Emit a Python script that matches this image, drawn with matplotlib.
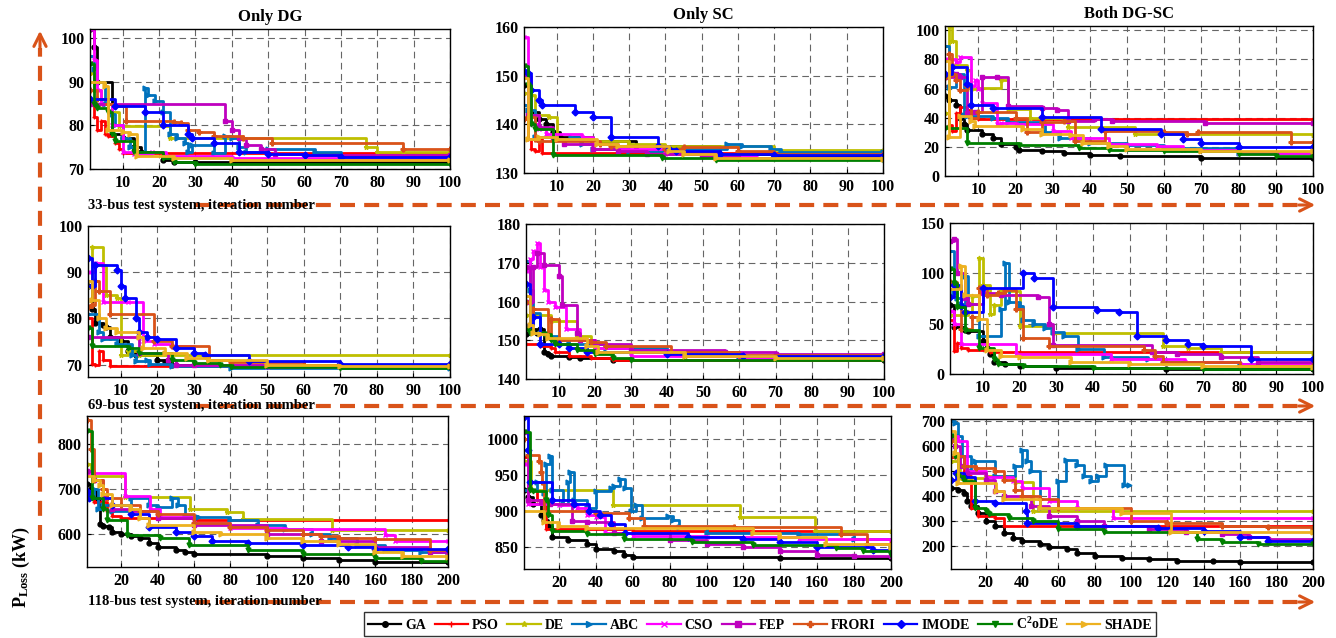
import matplotlib
matplotlib.use('Agg')
import matplotlib.pyplot as plt
from matplotlib.lines import Line2D

plt.rcParams['font.family'] = ['Liberation Serif', 'DejaVu Serif']
plt.rcParams['font.weight'] = 'bold'
plt.rcParams['mathtext.fontset'] = 'custom'
plt.rcParams['mathtext.rm'] = 'Liberation Serif:bold'
plt.rcParams['mathtext.bf'] = 'Liberation Serif:bold'
plt.rcParams['mathtext.it'] = 'Liberation Serif:bold'

# ---------------- data: convergence curves (iteration, P_loss kW) breakpoints ----------------
algorithms = ["GA", "PSO", "DE", "ABC", "CSO", "FEP", "FRORI", "IMODE", "C2oDE", "SHADE"]
legend_labels = ["GA", "PSO", "DE", "ABC", "CSO", "FEP", "FRORI", "IMODE", r"C$^{2}$oDE", "SHADE"]
colors = ["#000000", "#FF0000", "#BFBF00", "#0072BD", "#FF00FF", "#BF00BF",
          "#D95319", "#0000FF", "#008000", "#EDB120"]
markers = ["o", "+", "*", ">", "x", "s", "P", "D", "v", ">"]

col_titles = ["Only DG", "Only SC", "Both DG-SC"]
row_labels = ["33-bus test system, iteration number",
              "69-bus test system, iteration number",
              "118-bus test system, iteration number"]

DG33 = {
    "GA": [(1, 102), (2, 98), (3, 90), (7, 78), (10, 77), (13, 75), (15, 74), (21, 72), (24, 71.7), (30, 71.5), (100, 71.5)],
    "PSO": [(1, 85), (2, 82), (3, 79), (4, 81), (5, 78), (6, 77.6), (8, 76), (9, 74.5), (10, 73.6), (100, 73.4)],
    "DE": [(1, 92), (2, 88), (4, 85), (7, 83), (9, 79.8), (23, 77), (77, 75), (80, 74), (87, 73.8), (100, 73.8)],
    "ABC": [(1, 96), (2, 93), (3, 90), (5, 85), (7, 82.5), (8, 80), (10, 77), (12, 75), (14, 74), (16, 88.5), (17, 87),
            (19, 85.5), (21, 83), (23, 78), (25, 77), (27, 76), (28, 74), (29, 75.5), (35, 73.7), (38, 77.5), (40, 77),
            (42, 75), (44, 74), (50, 74.5), (63, 74), (70, 73), (80, 72.5), (100, 72.5)],
    "CSO": [(1, 102), (2, 95), (3, 88), (4, 85), (7, 80), (10, 74), (13, 73.5), (18, 74), (22, 73), (40, 72.5), (100, 72.5)],
    "FEP": [(1, 85), (38, 81), (40, 79), (42, 77), (44, 75.5), (48, 74.5), (52, 73.5), (60, 73.2), (100, 73.2)],
    "FRORI": [(1, 88), (3, 86), (6, 85), (8, 84.5), (11, 81), (24, 80.8), (26, 80.5), (28, 79), (31, 78.5), (35, 77.5),
              (43, 77), (51, 76), (87, 74.7), (100, 74.7)],
    "IMODE": [(1, 86), (8, 84.5), (16, 83), (21, 80), (28, 78), (29, 77), (35, 76), (42, 74), (50, 73.5), (60, 73.2),
              (70, 72.8), (100, 72.8)],
    "C2oDE": [(1, 94), (2, 85), (3, 84), (6, 83), (7, 78), (8, 76.5), (13, 74), (21, 72.5), (24, 71.5), (30, 71.2), (100, 71.2)],
    "SHADE": [(1, 90), (5, 89), (6, 79), (10, 78.5), (12, 78), (14, 73), (24, 72.5), (40, 72), (100, 72)],
}

SC33 = {
    "GA": [(1, 148), (3, 142.5), (5, 141), (7, 140), (9, 138.5), (11, 137.5), (20, 136.5), (32, 135.5), (55, 134), (70, 133.5), (100, 133.5)],
    "PSO": [(1, 141), (2, 137), (3, 135), (4, 134.5), (5, 137), (6, 134.2), (100, 134.2)],
    "DE": [(1, 146.5), (2, 150), (3, 146), (4, 142), (8, 141.5), (10, 137), (20, 136.5), (30, 136), (40, 135.5), (70, 134.7), (100, 134.7)],
    "ABC": [(1, 144), (2, 143), (4, 137.5), (10, 137), (14, 137.5), (17, 136), (20, 135), (30, 134.5), (40, 135), (57, 136),
            (61, 135.5), (69, 135), (72, 134.3), (100, 134.3)],
    "CSO": [(1, 158), (2, 150), (3, 140), (5, 139), (7, 138), (17, 137.5), (20, 136), (27, 135), (40, 134), (55, 133.5), (65, 133), (100, 133)],
    "FEP": [(1, 150), (2, 142), (5, 139.5), (9, 137), (12, 136), (20, 135), (27, 134.5), (35, 134), (50, 133.5), (60, 133), (100, 133)],
    "FRORI": [(1, 141), (2, 141.5), (4, 137), (5, 136.5), (22, 136), (25, 135.5), (40, 135), (45, 135.3), (60, 134.5), (70, 134), (100, 134)],
    "IMODE": [(1, 151), (2, 150.5), (3, 147), (5, 145), (6, 144), (15, 142.5), (20, 141.5), (25, 137.5), (38, 135.5), (41, 135),
              (43, 134.5), (55, 134), (70, 133.7), (100, 133.5)],
    "C2oDE": [(1, 152), (2, 148), (3, 140), (4, 139), (9, 133.7), (39, 133), (54, 132.7), (100, 132.7)],
    "SHADE": [(1, 149.5), (2, 137), (5, 137.5), (10, 137), (21, 136), (27, 135.5), (41, 134.5), (45, 134), (54, 133), (100, 132.8)],
}

BOTH33 = {
    "GA": [(1, 55), (2, 52), (4, 49), (5, 40), (6, 36), (7, 31.5), (11, 29), (14, 26), (16, 22), (20, 20), (21, 18), (27, 17),
           (33, 15.5), (40, 14.5), (48, 13.5), (70, 12.5), (100, 12.5)],
    "PSO": [(1, 62), (2, 35), (3, 31), (4, 43), (5, 47.5), (7, 45), (8, 40), (10, 39), (100, 39)],
    "DE": [(1, 43), (2, 103), (3, 93), (4, 76), (7, 73), (8, 59.5), (10, 60.5), (16, 66), (18, 46), (24, 40), (34, 33.5),
           (52, 28.5), (100, 28)],
    "ABC": [(1, 89), (2, 61), (4, 70), (6, 42), (7, 41), (14, 40), (18, 37), (28, 30), (32, 26), (40, 23), (50, 21), (60, 19),
            (80, 16), (100, 16)],
    "CSO": [(1, 80), (4, 78), (5, 82), (8, 62), (9, 66), (10, 60), (11, 50), (15, 36), (16, 36.5), (20, 36), (30, 31), (35, 26),
            (45, 22), (58, 20.5), (65, 18), (80, 16), (100, 16)],
    "FEP": [(1, 68), (4, 70), (5, 68), (7, 43), (9, 44), (11, 68), (15, 68), (18, 48), (27, 47), (31, 45), (34, 38), (41, 39),
            (46, 37.5), (71, 36.5), (100, 36.5)],
    "FRORI": [(1, 68), (2, 84), (3, 70), (4, 66), (5, 59), (7, 62), (8, 40), (10, 44), (20, 40), (23, 30), (27, 37), (33, 38),
              (36, 24), (44, 31), (60, 30), (66, 29), (69, 30), (94, 23.5), (100, 23.5)],
    "IMODE": [(1, 70), (3, 75), (7, 63), (8, 49), (14, 47), (27, 40.5), (43, 32.5), (59, 29), (65, 25.5), (70, 22.5), (80, 20), (100, 20)],
    "C2oDE": [(1, 33), (7, 23), (21, 21), (37, 19.5), (45, 18), (60, 17), (80, 15), (90, 14), (100, 14)],
    "SHADE": [(1, 79), (2, 27), (5, 41), (8, 38), (9, 34), (22, 32), (27, 29), (35, 28), (38, 23), (45, 20.5), (50, 18.5), (70, 17), (100, 17)],
}

DG69 = {
    "GA": [(1, 87), (2, 82), (3, 79), (5, 78.5), (6, 78.2), (7, 76), (10, 75), (12, 73), (14, 72), (20, 71), (22, 70.5), (24, 70), (40, 69.7), (100, 69.7)],
    "PSO": [(1, 80), (2, 70.2), (3, 69.8), (4, 73), (5, 71), (7, 69.7), (100, 69.7)],
    "DE": [(1, 87), (2, 95.5), (5, 91.5), (6, 85), (9, 84.5), (10, 72), (12, 73), (15, 72), (100, 72)],
    "ABC": [(1, 81), (4, 77), (5, 75.5), (9, 74.5), (13, 72), (14, 70.7), (17, 71), (18, 70.2), (24, 69.7), (40, 69.3), (100, 69.3)],
    "CSO": [(1, 90), (3, 92), (5, 83.5), (12, 83.5), (16, 75), (19, 74.5), (24, 74), (30, 70), (50, 69.5), (100, 69.5)],
    "FEP": [(1, 76), (15, 72.5), (23, 71), (25, 70), (30, 69.8), (100, 69.8)],
    "FRORI": [(1, 82.5), (2, 83), (3, 88), (4, 86), (7, 81), (19, 75), (24, 74), (34, 71), (40, 70.5), (60, 70), (80, 69.7), (100, 69.7)],
    "IMODE": [(1, 93), (2, 87), (3, 91.5), (9, 90.5), (10, 87), (11, 84.5), (14, 80), (15, 77), (17, 76), (20, 75.5), (25, 73.5),
              (30, 72.5), (33, 72), (45, 70.7), (70, 70.2), (100, 70.2)],
    "C2oDE": [(1, 78), (2, 74), (12, 73.5), (15, 72.5), (24, 71), (30, 70.3), (37, 70), (40, 69.5), (70, 69.2), (100, 69.2)],
    "SHADE": [(1, 88), (2, 84), (4, 80), (6, 78), (9, 77), (15, 76), (16, 73.5), (22, 72.5), (28, 71.5), (34, 71), (50, 70), (70, 69.7), (100, 69.7)],
}

SC69 = {
    "GA": [(1, 151.5), (2, 153), (4, 152), (5, 153), (6, 147), (7, 146.5), (8, 146), (13, 145.7), (16, 145.3), (25, 145), (100, 145)],
    "PSO": [(1, 149), (5, 148.5), (8, 148), (9, 147), (13, 146), (19, 145.5), (25, 145), (100, 145)],
    "DE": [(1, 156.5), (8, 155), (15, 151), (19, 149), (20, 148), (30, 147), (45, 146), (70, 145.2), (100, 145.2)],
    "ABC": [(1, 170.5), (2, 163), (3, 157), (5, 152), (7, 151), (10, 150), (13, 149), (23, 148), (40, 147), (60, 146), (80, 145.3), (100, 145.3)],
    "CSO": [(1, 168), (2, 171), (3, 173), (4, 175), (5, 169), (6, 163), (7, 160), (9, 158.5), (12, 153), (16, 150), (20, 148),
            (30, 146), (60, 145.5), (100, 145.5)],
    "FEP": [(1, 169), (2, 160), (3, 169), (4, 172.5), (6, 169.5), (10, 166.5), (11, 159), (15, 152), (16, 150), (20, 149),
            (30, 147.5), (56, 147), (70, 146.5), (100, 146.5)],
    "FRORI": [(1, 160), (2, 154), (3, 158), (7, 152), (8, 155.5), (10, 150), (19, 149.5), (23, 148.5), (41, 147), (60, 146.3), (100, 146.3)],
    "IMODE": [(1, 164.5), (2, 154), (3, 156), (5, 149), (10, 149), (13, 148), (18, 147), (40, 146.5), (61, 146), (100, 146)],
    "C2oDE": [(1, 153), (2, 152), (6, 151.5), (8, 150), (9, 149), (15, 147.5), (20, 146.5), (25, 145.5), (30, 145), (100, 145)],
    "SHADE": [(1, 161.5), (2, 154), (3, 152), (5, 151.5), (7, 150.5), (18, 148.5), (21, 147), (45, 146), (70, 145.4), (100, 145.4)],
}

BOTH69 = {
    "GA": [(1, 69), (2, 47), (5, 44), (6, 43), (10, 33), (11, 26), (12, 20), (13, 12), (16, 10), (20, 7.5), (30, 6), (60, 5), (100, 5)],
    "PSO": [(1, 54), (2, 23), (3, 31), (4, 26), (6, 24), (12, 22), (20, 21.5), (100, 21.5)],
    "DE": [(1, 59), (6, 62), (7, 77), (9, 115), (10, 88), (12, 60), (13, 69), (15, 82), (20, 48), (29, 40.5), (59, 28), (66, 26),
           (75, 22), (100, 21)],
    "ABC": [(1, 122), (2, 80), (3, 75), (4, 70), (5, 97), (6, 70), (9, 38), (15, 65), (16, 110), (17, 72), (20, 68), (21, 54),
            (24, 50), (27, 46), (29, 42), (32, 38), (36, 25), (43, 17), (55, 15), (60, 12), (80, 10), (100, 10)],
    "CSO": [(1, 63), (2, 50), (4, 30), (19, 20), (45, 15), (65, 12), (80, 10), (100, 9)],
    "FEP": [(1, 132), (2, 134), (3, 100), (5, 75), (6, 70), (10, 80), (15, 78), (25, 76), (28, 50), (29, 29), (56, 22), (63, 20),
            (75, 17), (85, 12), (100, 12)],
    "FRORI": [(1, 91), (3, 85), (4, 45), (7, 57), (9, 85), (11, 78), (14, 80), (16, 83), (19, 65), (21, 36), (28, 28), (54, 24),
              (57, 18), (59, 12), (80, 8), (100, 8)],
    "IMODE": [(1, 76), (2, 88), (4, 68), (5, 62), (10, 85), (21, 100), (24, 95), (29, 67), (41, 64), (47, 62), (52, 38), (60, 34),
              (66, 30), (70, 28), (83, 15), (100, 15)],
    "C2oDE": [(1, 104), (2, 90), (3, 67), (5, 44), (9, 26), (13, 15), (14, 10), (21, 8), (40, 6), (70, 5), (100, 5)],
    "SHADE": [(1, 84), (4, 107), (5, 78), (9, 55), (11, 24), (15, 18), (20, 17), (34, 12), (50, 10), (70, 8), (100, 7)],
}

DG118 = {
    "GA": [(1, 712), (3, 700), (6, 680), (8, 622), (10, 618), (13, 615), (15, 605), (20, 600), (25, 595), (30, 590), (35, 580),
           (40, 570), (50, 565), (55, 560), (60, 555), (100, 550), (120, 545), (140, 542), (160, 538), (200, 538)],
    "PSO": [(1, 680), (3, 690), (5, 670), (12, 650), (15, 640), (20, 635), (60, 632), (200, 632)],
    "DE": [(1, 755), (3, 740), (5, 730), (22, 683), (58, 656), (78, 648), (87, 633), (136, 608), (200, 608)],
    "ABC": [(1, 695), (4, 680), (5, 700), (7, 655), (10, 665), (15, 650), (25, 680), (35, 665), (40, 660), (48, 680), (51, 665),
            (55, 640), (62, 638), (80, 630), (95, 620), (110, 610), (125, 600), (135, 590), (150, 575), (165, 565), (185, 560), (200, 555)],
    "CSO": [(1, 735), (22, 685), (36, 655), (41, 638), (60, 625), (80, 612), (110, 610), (165, 598), (171, 585), (200, 585)],
    "FEP": [(1, 740), (5, 720), (10, 680), (15, 655), (25, 650), (40, 635), (60, 620), (100, 600), (130, 585), (160, 570), (190, 560), (200, 555)],
    "FRORI": [(1, 855), (3, 790), (5, 720), (10, 700), (12, 680), (20, 665), (30, 650), (40, 645), (60, 625), (80, 615), (100, 608),
              (120, 600), (130, 595), (140, 590), (160, 588), (190, 565), (200, 565)],
    "IMODE": [(1, 695), (2, 680), (15, 665), (25, 645), (35, 615), (50, 605), (60, 595), (70, 585), (90, 580), (120, 575), (145, 570),
              (160, 567), (200, 567)],
    "C2oDE": [(1, 830), (4, 680), (10, 655), (12, 632), (23, 598), (41, 590), (57, 575), (90, 565), (120, 555), (160, 545), (185, 540), (200, 540)],
    "SHADE": [(1, 728), (5, 720), (8, 710), (10, 690), (15, 665), (25, 655), (30, 635), (35, 620), (60, 605), (75, 600), (100, 590),
              (120, 585), (140, 578), (160, 560), (175, 550), (200, 548)],
}

SC118 = {
    "GA": [(1, 930), (3, 920), (6, 910), (10, 895), (12, 888), (14, 880), (16, 865), (25, 860), (35, 855), (40, 848), (50, 845),
           (55, 840), (60, 837), (140, 835), (200, 835)],
    "PSO": [(1, 975), (4, 930), (8, 915), (12, 910), (13, 875), (60, 872), (200, 872)],
    "DE": [(1, 970), (5, 930), (49, 908), (118, 892), (159, 872), (200, 872)],
    "ABC": [(1, 930), (8, 940), (12, 925), (13, 965), (15, 977), (16, 930), (22, 910), (25, 940), (26, 955), (28, 915), (35, 905),
            (40, 928), (48, 932), (50, 935), (53, 945), (56, 932), (59, 900), (62, 908), (65, 890), (79, 893), (82, 888), (85, 878),
            (100, 870), (150, 868), (180, 862), (200, 850)],
    "CSO": [(1, 965), (3, 910), (20, 908), (30, 905), (35, 895), (40, 892), (45, 870), (60, 866), (100, 865), (150, 862), (200, 860)],
    "FEP": [(1, 1010), (3, 915), (10, 913), (15, 910), (27, 887), (35, 885), (50, 870), (80, 860), (100, 855), (120, 850), (140, 845),
            (160, 840), (180, 838), (200, 838)],
    "FRORI": [(1, 1000), (3, 978), (9, 970), (10, 955), (11, 940), (12, 900), (40, 898), (58, 890), (66, 880), (115, 878), (173, 868),
              (187, 855), (200, 855)],
    "IMODE": [(1, 1030), (3, 985), (4, 940), (16, 915), (28, 910), (36, 900), (42, 895), (48, 882), (56, 870), (90, 865), (120, 862),
              (140, 857), (160, 850), (190, 847), (200, 845)],
    "C2oDE": [(1, 1010), (4, 930), (6, 928), (13, 915), (14, 895), (16, 872), (35, 868), (55, 862), (92, 858), (125, 853), (170, 849),
              (185, 845), (200, 840)],
    "SHADE": [(1, 900), (12, 885), (20, 880), (35, 877), (125, 870), (140, 865), (165, 855), (200, 850)],
}

BOTH118 = {
    "GA": [(1, 430), (5, 425), (8, 410), (10, 380), (12, 360), (16, 330), (20, 300), (25, 280), (30, 250), (35, 230), (40, 220),
           (50, 205), (55, 195), (65, 185), (70, 170), (80, 160), (95, 150), (110, 145), (125, 140), (145, 138), (160, 135), (200, 135)],
    "PSO": [(1, 555), (5, 560), (8, 480), (12, 350), (16, 320), (25, 310), (30, 280), (200, 280)],
    "DE": [(1, 540), (5, 560), (6, 470), (20, 480), (36, 455), (46, 340), (200, 340)],
    "ABC": [(1, 700), (3, 690), (5, 640), (7, 560), (12, 500), (14, 540), (25, 480), (36, 520), (40, 585), (43, 540), (45, 500),
            (50, 350), (60, 460), (64, 545), (70, 525), (74, 480), (78, 460), (82, 480), (86, 525), (96, 445), (99, 445)],
    "CSO": [(1, 640), (5, 620), (10, 500), (20, 475), (35, 460), (40, 430), (55, 380), (70, 350), (90, 310), (200, 310)],
    "FEP": [(1, 630), (3, 600), (6, 520), (10, 490), (20, 465), (25, 420), (30, 400), (45, 360), (55, 320), (70, 300), (85, 280),
            (110, 265), (130, 255), (150, 245), (165, 235), (175, 225), (200, 220)],
    "FRORI": [(1, 620), (3, 560), (8, 520), (15, 510), (25, 500), (30, 465), (36, 425), (40, 400), (50, 385), (60, 350), (100, 300),
              (120, 290), (150, 280), (175, 275), (200, 268)],
    "IMODE": [(1, 465), (4, 490), (8, 475), (14, 380), (25, 370), (42, 340), (43, 290), (70, 280), (115, 270), (140, 260), (160, 235),
              (175, 220), (200, 220)],
    "C2oDE": [(1, 640), (3, 560), (5, 480), (8, 460), (14, 350), (20, 340), (22, 325), (33, 310), (46, 300), (60, 265), (85, 255),
              (136, 225), (150, 215), (170, 205), (200, 205)],
    "SHADE": [(1, 660), (3, 570), (5, 450), (26, 420), (30, 385), (50, 350), (95, 330), (122, 255), (200, 255)],
}

panel_data = [[DG33, SC33, BOTH33], [DG69, SC69, BOTH69], [DG118, SC118, BOTH118]]
x_max = [100, 100, 200]
x_ticks = [list(range(10, 101, 10)), list(range(10, 101, 10)), list(range(20, 201, 20))]
y_limits = [[(70, 102.1), (130, 160), (0, 103)],
            [(67.3, 100), (140, 180), (0, 150)],
            [(526, 863), (820, 1032), (106, 708)]]
y_ticks = [[[70, 80, 90, 100], [130, 140, 150, 160], [0, 20, 40, 60, 80, 100]],
           [[70, 80, 90, 100], [140, 150, 160, 170, 180], [0, 50, 100, 150]],
           [[600, 700, 800], [850, 900, 950, 1000], [200, 300, 400, 500, 600, 700]]]

# ---------------- layout (pixels) ----------------
W, H = 1336, 638
rects = [[(90, 29, 450, 169), (524, 27, 883, 173), (945, 26, 1313, 176)],
         [(88, 226, 450, 377), (526, 224, 884, 379), (950, 223, 1313, 374)],
         [(87, 416, 448, 567), (524, 416, 891, 569), (951, 419, 1313, 569)]]

fig = plt.figure(figsize=(W / 100, H / 100), dpi=100)

ORANGE = "#D95319"
ov = fig.add_axes([0, 0, 1, 1])
ov.set_xlim(0, W)
ov.set_ylim(H, 0)
ov.axis('off')
ov.patch.set_alpha(0)

dash = (0, (3.6, 2.2))
row_y = [205, 406, 602]
for yy, lab in zip(row_y, row_labels):
    ov.plot([195, 1300], [yy, yy], color=ORANGE, lw=3, ls=dash, solid_capstyle='butt', dash_capstyle='butt')
    ov.annotate('', xy=(1318, yy), xytext=(1296, yy),
                arrowprops=dict(arrowstyle='->', color=ORANGE, lw=2.2, mutation_scale=22))
    ov.text(88, yy, lab, fontsize=10.5, fontweight='bold', va='center', ha='left')
ov.plot([40, 40], [540, 48], color=ORANGE, lw=3, ls=dash, dash_capstyle='butt')
ov.annotate('', xy=(40, 28), xytext=(40, 52),
            arrowprops=dict(arrowstyle='->', color=ORANGE, lw=2.2, mutation_scale=22))
ov.text(21, 567, r'$\mathbf{P_{Loss}}$ (kW)', rotation=90, fontsize=13, fontweight='bold',
        va='center', ha='center')

for r in range(3):
    for c in range(3):
        l, t, rr, b = rects[r][c]
        ax = fig.add_axes([l / W, 1 - b / H, (rr - l) / W, (b - t) / H])
        data = panel_data[r][c]
        for name, col, mk in zip(algorithms, colors, markers):
            pts = data[name]
            xs = [p[0] for p in pts]
            ys = [p[1] for p in pts]
            ax.plot(xs, ys, drawstyle='steps-post', color=col, lw=2.0, marker=mk,
                    ms=3.5, mew=1.0)
        ax.set_xlim(1, x_max[r])
        ax.set_ylim(*y_limits[r][c])
        ax.set_xticks(x_ticks[r])
        ax.set_yticks(y_ticks[r][c])
        ax.grid(True, color='0.4', ls=(0, (6, 4)), lw=0.8)
        ax.tick_params(direction='in', length=3, labelsize=11.5, pad=4)
        for lbl in ax.get_xticklabels() + ax.get_yticklabels():
            lbl.set_fontweight('bold')
        for sp in ax.spines.values():
            sp.set_linewidth(1.0)
        if r == 0:
            ax.set_title(col_titles[c], fontsize=12, fontweight='bold', pad=6)

handles = [Line2D([0], [0], color=col, marker=mk, lw=1.6, ms=4, mew=1.0)
           for col, mk in zip(colors, markers)]
leg = fig.legend(handles, legend_labels, loc='center', ncol=10,
                 bbox_to_anchor=(760 / W, 1 - 624 / H), frameon=True, fancybox=False,
                 edgecolor='black', handlelength=2.4, columnspacing=0.6,
                 handletextpad=0.3, borderpad=0.3, borderaxespad=0.0,
                 prop={'weight': 'bold', 'size': 10})
leg.get_frame().set_linewidth(1.0)

fig.savefig('out.png', dpi=100)
